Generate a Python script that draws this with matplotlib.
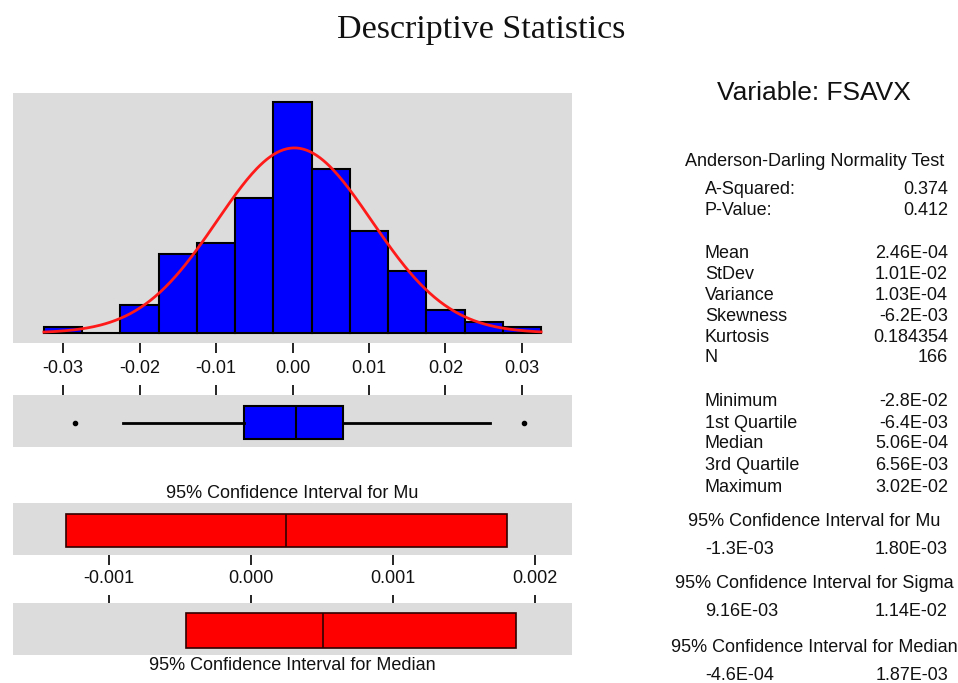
# -*- coding: utf-8 -*-
import numpy as np
import matplotlib
matplotlib.use("Agg")
from matplotlib import pyplot as plt

plt.rcParams['font.family'] = ['Liberation Sans', 'DejaVu Sans']
plt.rcParams['axes.unicode_minus'] = False

# datos
centros = [-0.030, -0.025, -0.020, -0.015, -0.010, -0.005, 0.000,
           0.005, 0.010, 0.015, 0.020, 0.025, 0.030]
conteos = [1, 0, 5, 14, 16, 24, 41, 29, 18, 11, 4, 2, 1]
ancho_clase = 0.005

media = 2.46e-4
desv = 1.01e-2
n = 166
minimo = -0.0284
q1 = -6.4e-3
mediana = 5.06e-4
q3 = 6.56e-3
maximo = 0.0302
bigote_inf = -0.0222
bigote_sup = 0.0258

ic_mu = (-1.3e-3, 1.80e-3)
ic_mediana = (-4.6e-4, 1.87e-3)

ticks_hist = [-0.03, -0.02, -0.01, 0.00, 0.01, 0.02, 0.03]
ticks_ic = [-0.001, 0.000, 0.001, 0.002]

etiquetas_ad = ["A-Squared:", "P-Value:"]
valores_ad = ["0.374", "0.412"]
etiquetas_mom = ["Mean", "StDev", "Variance", "Skewness", "Kurtosis", "N"]
valores_mom = ["2.46E-04", "1.01E-02", "1.03E-04", "-6.2E-03", "0.184354", "166"]
etiquetas_cuart = ["Minimum", "1st Quartile", "Median", "3rd Quartile", "Maximum"]
valores_cuart = ["-2.8E-02", "-6.4E-03", "5.06E-04", "6.56E-03", "3.02E-02"]
titulos_ic = ["95% Confidence Interval for Mu",
              "95% Confidence Interval for Sigma",
              "95% Confidence Interval for Median"]
valores_ic = [("-1.3E-03", "1.80E-03"), ("9.16E-03", "1.14E-02"), ("-4.6E-04", "1.87E-03")]

########################################################################################
W, H = 958, 683
GRIS = '#dcdcdc'
TXT = '#111111'
TAM = 13
fig = plt.figure(figsize=(W / 100, H / 100), dpi=100)


def ejes(x0, y0, x1, y1):
    ax = fig.add_axes([x0 / W, 1 - y1 / H, (x1 - x0) / W, (y1 - y0) / H])
    ax.set_facecolor(GRIS)
    for s in ax.spines.values():
        s.set_visible(False)
    ax.set_yticks([])
    return ax


def px(x, y):
    return x / W, 1 - y / H


fig.text(*px(481, 30), "Descriptive Statistics", family=['Liberation Serif'],
         fontsize=24.5, ha='center', va='center', color=TXT)

# histograma
ax_h = ejes(13, 92.5, 572, 343)
ax_h.bar(centros, conteos, width=ancho_clase, color='#0000ff', edgecolor='black', linewidth=1.5)
xs = np.linspace(centros[0] - ancho_clase / 2, centros[-1] + ancho_clase / 2, 300)
ys = n * ancho_clase * np.exp(-0.5 * ((xs - media) / desv) ** 2) / (desv * np.sqrt(2 * np.pi))
ax_h.plot(xs, ys, color='#ff1a1a', linewidth=2)
ax_h.set_xlim(-0.03654, 0.03654)
ax_h.set_ylim(-1.77, 42.6)
ax_h.set_xticks(ticks_hist)
ax_h.set_xticklabels(["%.2f" % t for t in ticks_hist])
ax_h.tick_params(axis='x', direction='out', length=7, width=1.2, pad=5, labelsize=TAM, labelcolor=TXT)

# diagrama de caja
ax_b = ejes(13, 395, 572, 447)
stats = [dict(med=mediana, q1=q1, q3=q3, whislo=bigote_inf, whishi=bigote_sup,
              fliers=[minimo, maximo])]
ax_b.bxp(stats, positions=[0.47], widths=0.62, orientation='horizontal', patch_artist=True,
         showcaps=False,
         boxprops=dict(facecolor='#0000ff', edgecolor='black', linewidth=1.5),
         whiskerprops=dict(color='black', linewidth=2),
         medianprops=dict(color='black', linewidth=1.5),
         flierprops=dict(marker='o', markersize=3, markerfacecolor='black', markeredgecolor='black'))
ax_b.set_xlim(ax_h.get_xlim())
ax_b.set_ylim(0, 1)
ax_b.set_yticks([])
ax_b.set_xticks(ticks_hist)
ax_b.tick_params(axis='x', bottom=False, labelbottom=False, top=True, direction='out',
                 length=7, width=1.2)

# intervalos de confianza
xlim_ic = (-0.001676, 0.002261)
fig.text(*px(292, 493), titulos_ic[0], fontsize=TAM, ha='center', va='center', color=TXT)
ax_mu = ejes(13, 503, 572, 555)
ax_mu.barh([0.47], [ic_mu[1] - ic_mu[0]], left=[ic_mu[0]], height=0.63,
           color='#ff0000', edgecolor='#300000', linewidth=1.2)
ax_mu.vlines([media], 0.47 - 0.315, 0.47 + 0.315, color='#300000', linewidth=1.2)
ax_mu.set_xlim(xlim_ic)
ax_mu.set_ylim(0, 1)
ax_mu.set_xticks(ticks_ic)
ax_mu.set_xticklabels(["%.3f" % t for t in ticks_ic])
ax_mu.tick_params(axis='x', direction='out', length=7, width=1.2, pad=4, labelsize=TAM, labelcolor=TXT)

ax_md = ejes(13, 603, 572, 655)
ax_md.barh([0.47], [ic_mediana[1] - ic_mediana[0]], left=[ic_mediana[0]], height=0.67,
           color='#ff0000', edgecolor='#300000', linewidth=1.2)
ax_md.vlines([mediana], 0.47 - 0.335, 0.47 + 0.335, color='#300000', linewidth=1.2)
ax_md.set_xlim(xlim_ic)
ax_md.set_ylim(0, 1)
ax_md.set_xticks(ticks_ic)
ax_md.tick_params(axis='x', bottom=False, labelbottom=False, top=True, direction='out',
                  length=6, width=1.2)
fig.text(*px(292, 665), titulos_ic[2], fontsize=TAM, ha='center', va='center', color=TXT)

# tabla de la derecha
fig.text(*px(814, 93), "Variable: FSAVX", fontsize=19, ha='center', va='center', color=TXT)
fig.text(*px(815, 161), "Anderson-Darling Normality Test", fontsize=TAM,
         ha='center', va='center', color=TXT)


def filas(etiquetas, valores, ys):
    for e, v, y in zip(etiquetas, valores, ys):
        fig.text(*px(705, y), e, fontsize=TAM, ha='left', va='center', color=TXT)
        fig.text(*px(948, y), v, fontsize=TAM, ha='right', va='center', color=TXT)


filas(etiquetas_ad, valores_ad, [189, 210])
filas(etiquetas_mom, valores_mom, [254, 274.5, 295.5, 316.5, 337.5, 358])
filas(etiquetas_cuart, valores_cuart, [402, 423, 444, 465, 487])
for titulo, (a, b), yt, yv in zip(titulos_ic, valores_ic, [522, 583, 647], [550, 611, 676]):
    fig.text(*px(814, yt), titulo, fontsize=TAM, ha='center', va='center', color=TXT)
    fig.text(*px(705, yv), a, fontsize=TAM, ha='left', va='center', color=TXT)
    fig.text(*px(948, yv), b, fontsize=TAM, ha='right', va='center', color=TXT)

fig.savefig("out.png", dpi=100)
